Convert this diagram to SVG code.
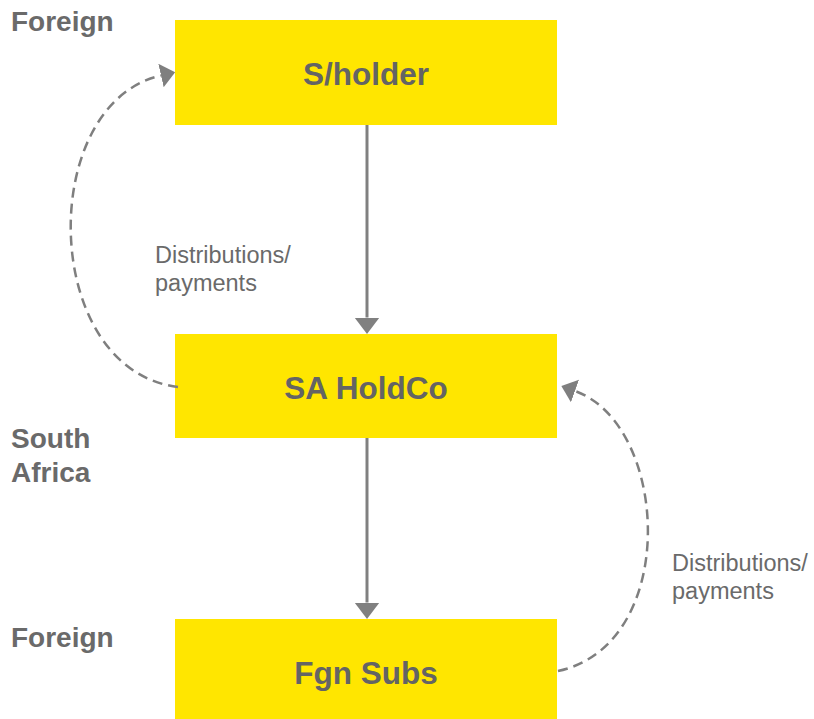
<svg xmlns="http://www.w3.org/2000/svg" width="814" height="719" viewBox="0 0 814 719">
  <style>
    .box { fill: #FFE600; }
    .node-label { font-family: "Liberation Sans", Arial, sans-serif; font-weight: bold; font-size: 31.5px; fill: #646464; text-anchor: middle; }
    .region { font-family: "Liberation Sans", Arial, sans-serif; font-weight: bold; font-size: 28px; fill: #6a6a6a; }
    .flow { font-family: "Liberation Sans", Arial, sans-serif; font-size: 23.5px; fill: #6a6a6a; }
    .solid { fill: none; stroke: #808080; stroke-width: 3; }
    .dashed { fill: none; stroke: #7f7f7f; stroke-width: 2.5; stroke-dasharray: 10 6; }
  </style>
  <defs>
    <marker id="head" markerUnits="userSpaceOnUse" markerWidth="17" markerHeight="26" refX="0" refY="12.5" orient="auto">
      <path d="M0,0 L16.5,12.5 L0,25 Z" fill="#808080"/>
    </marker>
    <marker id="head-small" markerUnits="userSpaceOnUse" markerWidth="16" markerHeight="25" refX="0" refY="12" orient="auto">
      <path d="M0,0 L14.5,12 L0,24 Z" fill="#7f7f7f"/>
    </marker>
  </defs>

  <rect width="814" height="719" fill="#ffffff"/>

  <!-- jurisdiction labels -->
  <text class="region" x="11" y="31">Foreign</text>
  <text class="region" x="11" y="448">South</text>
  <text class="region" x="11" y="481.5">Africa</text>
  <text class="region" x="11" y="647">Foreign</text>

  <!-- entities -->
  <g id="shareholder">
    <rect class="box" x="175" y="20" width="382" height="105"/>
    <text class="node-label" x="366" y="84.5">S/holder</text>
  </g>
  <g id="sa-holdco">
    <rect class="box" x="175" y="334" width="382" height="104"/>
    <text class="node-label" x="366" y="398.5">SA HoldCo</text>
  </g>
  <g id="fgn-subs">
    <rect class="box" x="175" y="619" width="382" height="100"/>
    <text class="node-label" x="366" y="683.5">Fgn Subs</text>
  </g>

  <!-- ownership and distribution flows -->
  <g id="connectors">
    <path class="solid" d="M367,125 L367,317.5" marker-end="url(#head)"/>
    <path class="solid" d="M367,438 L367,602.5" marker-end="url(#head)"/>
    <path class="dashed" d="M178,387 C40,370 36,104 161,75.5" marker-end="url(#head-small)"/>
    <path class="dashed" d="M558,671 C680,645 670,425 575,391" marker-end="url(#head-small)"/>
  </g>

  <!-- flow labels -->
  <text class="flow" x="155" y="262.5">Distributions/</text>
  <text class="flow" x="155" y="290.5">payments</text>
  <text class="flow" x="672" y="570.5">Distributions/</text>
  <text class="flow" x="672" y="598.5">payments</text>
</svg>
